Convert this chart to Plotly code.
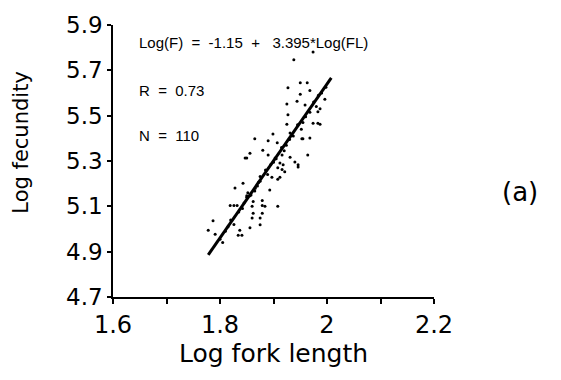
import plotly.graph_objects as go

# Scatter data (log fork length, log fecundity)
log_fl = [1.828, 1.843, 1.819, 1.832, 1.787, 1.778, 1.791, 1.837, 1.834, 1.841,
          1.856, 1.860, 1.875, 1.879, 1.862, 1.860, 1.862, 1.879, 1.884, 1.879,
          1.893, 1.897, 1.908, 1.875, 1.865, 1.856, 1.850, 1.908, 1.875,
          1.925, 1.944, 1.959, 1.983, 1.927, 1.983, 1.925, 1.899, 1.931, 1.968,
          1.953, 1.865, 1.890, 1.907, 1.880, 1.856, 1.847, 1.890, 1.916, 1.931,
          1.964, 1.903, 1.912, 1.946, 1.908, 1.916, 1.912, 1.875,
          1.974, 1.938, 1.950, 1.963, 1.968, 1.927, 1.950, 1.996, 1.987, 1.974,
          1.987, 1.955, 1.946, 1.921, 1.918, 1.940, 1.826, 1.852, 1.850,
          1.800, 1.820, 1.835, 1.850, 1.870, 1.885, 1.900, 1.915, 1.930, 1.945,
          1.960, 1.975, 1.990, 1.810, 1.845, 1.866, 1.895, 1.924, 1.955, 1.984,
          1.805, 1.826, 1.842, 1.858, 1.872, 1.889, 1.905, 1.920, 1.937, 1.952,
          1.968, 1.980, 1.998, 1.815]
log_fec = [5.181, 5.202, 5.104, 5.104, 5.036, 4.994, 4.977, 4.994, 4.972, 4.972,
           5.006, 5.049, 5.049, 5.070, 5.070, 5.100, 5.121, 5.104, 5.100, 5.126,
           5.172, 5.228, 5.100, 5.019, 5.168, 5.147, 5.147, 5.219, 5.232,
           5.551, 5.564, 5.547, 5.517, 5.504, 5.466, 5.462, 5.419, 5.423, 5.402,
           5.398, 5.398, 5.389, 5.381, 5.347, 5.334, 5.313, 5.326, 5.326, 5.317,
           5.326, 5.313, 5.291, 5.283, 5.270, 5.262, 5.228, 5.211,
           5.781, 5.747, 5.645, 5.645, 5.611, 5.623, 5.594, 5.572, 5.530, 5.466,
           5.462, 5.398, 5.274, 5.253, 5.283, 5.296, 5.104, 5.160, 5.313,
           4.955, 5.040, 5.075, 5.140, 5.190, 5.260, 5.295, 5.360, 5.395, 5.460,
           5.495, 5.560, 5.600, 4.990, 5.115, 5.180, 5.285, 5.370, 5.470, 5.590,
           4.940, 5.020, 5.090, 5.150, 5.205, 5.240, 5.310, 5.345, 5.410, 5.440,
           5.515, 5.540, 5.625, 5.010]

# Regression line: Log(F) = -1.15 + 3.395*Log(FL)
intercept = -1.15
slope = 3.395
line_x = [1.778, 2.008]
line_y = [intercept + slope * v for v in line_x]

x_tickvals = [1.6, 1.7, 1.8, 1.9, 2.0, 2.1, 2.2]
x_ticktext = ["1.6", "", "1.8", "", "2", "", "2.2"]
y_tickvals = [4.7, 4.9, 5.1, 5.3, 5.5, 5.7, 5.9]
y_ticktext = ["4.7", "4.9", "5.1", "5.3", "5.5", "5.7", "5.9"]

L, R, T, B = 113, 127, 15, 83
W, H = 561, 380
pw = W - L - R
ph = H - T - B


def px_x(p):
    return (p - L) / pw


def px_y(p):
    return (H - B - p) / ph


fig = go.Figure()
fig.add_trace(go.Scatter(x=log_fl, y=log_fec, mode="markers",
                         marker=dict(color="black", size=3, line=dict(width=0)),
                         showlegend=False, cliponaxis=False))
fig.add_trace(go.Scatter(x=line_x, y=line_y, mode="lines",
                         line=dict(color="black", width=3),
                         showlegend=False))

ann_font = dict(family="Liberation Sans, Arial", size=15, color="black")
nb = "\u00a0"
fig.add_annotation(x=px_x(137), y=px_y(33), xref="paper", yref="paper", xanchor="left", yanchor="middle",
                   text=f"Log(F){nb*2}={nb*2}-1.15{nb*2}+{nb*3}3.395*Log(FL)", showarrow=False, font=ann_font)
fig.add_annotation(x=px_x(137), y=px_y(83), xref="paper", yref="paper", xanchor="left", yanchor="middle",
                   text=f"R{nb*2}={nb*2}0.73", showarrow=False, font=ann_font)
fig.add_annotation(x=px_x(137), y=px_y(130), xref="paper", yref="paper", xanchor="left", yanchor="middle",
                   text=f"N{nb*2}={nb*2}110", showarrow=False, font=ann_font)
fig.add_annotation(x=px_x(520), y=px_y(188), xref="paper", yref="paper", showarrow=False,
                   xanchor="center", yanchor="middle",
                   text="(a)", font=dict(family="DejaVu Sans", size=26, color="black"))
# axis titles
fig.add_annotation(x=px_x(21), y=px_y(137), xref="paper", yref="paper", showarrow=False,
                   xanchor="center", yanchor="middle", textangle=-90,
                   text="Log fecundity", font=dict(family="DejaVu Sans", size=21, color="black"))
fig.add_annotation(x=px_x(273), y=px_y(356), xref="paper", yref="paper", showarrow=False,
                   xanchor="center", yanchor="middle",
                   text="Log fork length", font=dict(family="DejaVu Sans", size=25, color="black"))

fig.update_layout(
    width=W, height=H,
    margin=dict(l=L, r=R, t=T, b=B),
    paper_bgcolor="white", plot_bgcolor="white",
    font=dict(family="DejaVu Sans", color="black"),
    xaxis=dict(range=[1.6, 2.2], tickvals=x_tickvals, ticktext=x_ticktext,
               showgrid=False, zeroline=False, showline=True, linecolor="black", linewidth=1.5,
               ticks="outside", ticklen=5, tickcolor="black", tickwidth=1.5,
               tickfont=dict(family="DejaVu Sans", size=24, color="black")),
    yaxis=dict(range=[4.7, 5.9], tickvals=y_tickvals, ticktext=y_ticktext,
               showgrid=False, zeroline=False, showline=True, linecolor="black", linewidth=1.5,
               ticks="outside", ticklen=4, tickcolor="black", tickwidth=1.5,
               tickfont=dict(family="DejaVu Sans", size=23, color="black")),
)

fig.write_html("out.html")
